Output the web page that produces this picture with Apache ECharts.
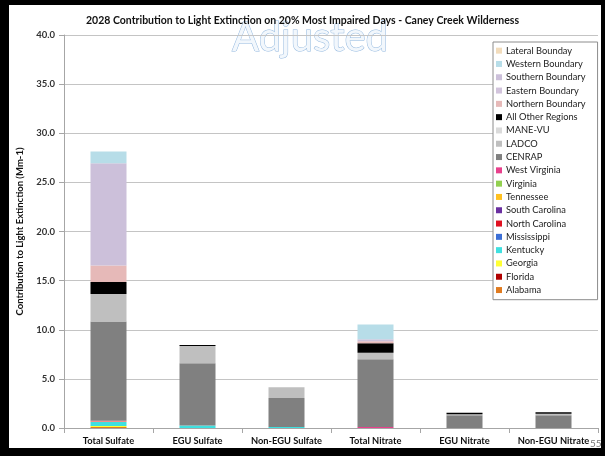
<!DOCTYPE html>
<html><head><meta charset="utf-8">
<script src="https://cdn.jsdelivr.net/npm/echarts@6/dist/echarts.min.js"></script>
<style>html,body{margin:0;padding:0;background:#fff}#c{width:605px;height:456px}</style>
</head><body><div id="c"></div>
<script>
const categories = ['Total Sulfate','EGU Sulfate','Non-EGU Sulfate','Total Nitrate','EGU Nitrate','Non-EGU Nitrate'];
const yTicks = [0,5,10,15,20,25,30,35,40];
// series values (bottom of stack to top)
const alabama       = [0.1, 0,    0,    0,    0,    0];
const florida       = [0,   0,    0,    0,    0,    0];
const georgia       = [0.1, 0,    0,    0,    0,    0];
const kentucky      = [0.4, 0.25, 0.1,  0,    0,    0];
const mississippi   = [0,   0,    0,    0,    0,    0];
const northCarolina = [0,   0,    0,    0,    0,    0];
const southCarolina = [0,   0,    0,    0,    0,    0];
const tennessee     = [0.05,0,    0,    0,    0,    0];
const virginia      = [0,   0,    0,    0,    0,    0];
const westVirginia  = [0.1, 0,    0,    0.1,  0,    0];
const cenrap        = [10.1,6.35, 2.95, 6.9,  1.3,  1.3];
const ladco         = [2.8, 1.75, 1.1,  0.67, 0.1,  0.15];
const maneVu        = [0,   0,    0,    0,    0,    0];
const allOther      = [1.2, 0.1,  0,    0.96, 0.15, 0.15];
const northernBnd   = [1.7, 0,    0,    0.2,  0,    0];
const easternBnd    = [0,   0,    0,    0,    0,    0];
const southernBnd   = [10.4,0,    0,    0.2,  0,    0];
const westernBnd    = [1.2, 0,    0,    1.5,  0,    0];
const lateralBnd    = [0,   0,    0,    0,    0,    0];

const seriesDefs = [
  ['Alabama', alabama, '#e07b20'],
  ['Florida', florida, '#b00000'],
  ['Georgia', georgia, '#ffff33'],
  ['Kentucky', kentucky, '#3fe0e0'],
  ['Mississippi', mississippi, '#3c6fd6'],
  ['North Carolina', northCarolina, '#e01020'],
  ['South Carolina', southCarolina, '#6a2fa0'],
  ['Tennessee', tennessee, '#ffc020'],
  ['Virginia', virginia, '#92d050'],
  ['West Virginia', westVirginia, '#e8408c'],
  ['CENRAP', cenrap, '#808080'],
  ['LADCO', ladco, '#bfbfbf'],
  ['MANE-VU', maneVu, '#dadada'],
  ['All Other Regions', allOther, '#000000'],
  ['Northern Boundary', northernBnd, '#e6b9b8'],
  ['Eastern Boundary', easternBnd, '#d2c4dc'],
  ['Southern Boundary', southernBnd, '#ccc0da'],
  ['Western Boundary', westernBnd, '#b7dde8'],
  ['Lateral Boundary', lateralBnd, '#f2dcbc']
];
const legendNames = seriesDefs.map(d => d[0]).reverse();
const legendLabels = {'Lateral Boundary':'Lateral Bounday'};

const FONT = 'Lato';
const chart = echarts.init(document.getElementById('c'), null, {renderer:'canvas'});
chart.setOption({
  backgroundColor:'#ffffff',
  animation:false,
  textStyle:{fontFamily:FONT},
  title:{text:'2028 Contribution to Light Extinction on 20% Most Impaired Days - Caney Creek Wilderness',
    left:'center', top:10, textStyle:{fontFamily:FONT,fontSize:10.5,fontWeight:'bold',color:'#111'}},
  grid:{left:64,right:7,top:35,bottom:28,containLabel:false},
  legend:{orient:'vertical',left:493,top:42,data:legendNames,icon:'rect',itemWidth:6,itemHeight:6,itemGap:0,
    padding:[2,12,3,3],backgroundColor:'#fff',borderColor:'#8c8c8c',borderWidth:1,
    formatter:n=>legendLabels[n]||n,
    textStyle:{fontFamily:FONT,fontSize:9.3,color:'#222',lineHeight:13.3,padding:[0,0,0,-1]}},
  xAxis:{type:'category',data:categories,
    axisLine:{lineStyle:{color:'#a6a6a6'}},
    axisTick:{show:true,length:5,lineStyle:{color:'#a6a6a6'}},
    axisLabel:{interval:0,fontFamily:FONT,fontSize:9.3,fontWeight:'bold',color:'#111',margin:8}},
  yAxis:{type:'value',min:yTicks[0],max:yTicks[yTicks.length-1],interval:5,
    name:'Contribution to Light Extinction (Mm-1)',nameLocation:'middle',nameGap:34,
    nameTextStyle:{fontFamily:FONT,fontSize:9.5,fontWeight:'bold',color:'#111'},
    axisLine:{show:true,lineStyle:{color:'#a6a6a6'}},
    axisTick:{show:true,length:5,lineStyle:{color:'#a6a6a6'}},
    splitLine:{lineStyle:{color:'#c4c4c4'}},
    axisLabel:{fontFamily:FONT,fontSize:9.5,fontWeight:'bold',color:'#333',margin:9,formatter:v=>v.toFixed(1)}},
  series:seriesDefs.map(d=>({name:d[0],type:'bar',stack:'all',data:d[1],barWidth:36,
    itemStyle:{color:d[2]}})),
  graphic:[
    {type:'text',x:310,y:38,z:0,silent:true,style:{text:'Adjusted',fontFamily:FONT,fontSize:40,
      align:'center',verticalAlign:'middle',fill:'#f2f7fc',stroke:'#93b8df',lineWidth:1}},
    {type:'text',x:590,y:439,style:{text:'55',fontFamily:FONT,fontSize:10,fill:'#777'}},
    {type:'rect',left:0,top:0,shape:{width:605,height:5},style:{fill:'#000'},z:100},
    {type:'rect',left:0,top:0,shape:{width:9,height:456},style:{fill:'#000'},z:100},
    {type:'rect',left:0,top:448,shape:{width:605,height:8},style:{fill:'#000'},z:100},
    {type:'rect',left:601,top:0,shape:{width:4,height:456},style:{fill:'#000'},z:100}
  ]
});
</script></body></html>
